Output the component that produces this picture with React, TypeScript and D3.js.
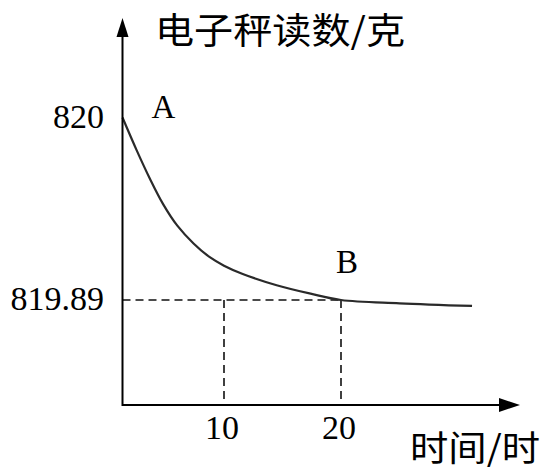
import React, { useRef, useEffect } from 'react';
import * as d3 from 'd3';

// time (hours) and scale reading (grams)
const hours = [0, 1.4, 2.7, 4, 5.4, 7, 8.6, 10, 11.6, 14.5, 17.4, 20, 25, 31.2];
const readings = [
  820, 819.9802, 819.9631, 819.9478, 819.9348, 819.9241, 819.9158, 819.9107,
  819.9057, 819.8989, 819.8938, 819.89, 819.888, 819.8864,
];
const xTicks = [10, 20];
const yTicks = [820, 819.89];
const yTickLabels = ['820', '819.89'];
const markPoint = { t: 20, v: 819.89 };
const pointLabels = [
  { name: 'A', t: 0, v: 820 },
  { name: 'B', t: 20, v: 819.89 },
];
const yTitle = '电子秤读数/克';
const xTitle = '时间/时';

const width = 552;
const height = 474;
const origin = { x: 122.5, y: 405 };
const serif = '"Liberation Serif", "Times New Roman", serif';
const cjk = '"Noto Sans CJK SC", sans-serif';

const App: React.FC = () => {
  const ref = useRef<SVGSVGElement>(null);

  useEffect(() => {
    if (ref.current === null) return;
    const svg = d3.select(ref.current);
    svg.selectAll('*').remove();

    // the drawing is not to scale, so the x scale is piecewise
    const x = d3.scaleLinear().domain([0, 10, 20]).range([origin.x, 224, 341]);
    const y = d3.scaleLinear().domain([819.89, 820]).range([300, 117.5]);

    // dashed guides
    const guides = svg
      .append('g')
      .attr('fill', 'none')
      .attr('stroke', '#111')
      .attr('stroke-width', 1.6)
      .attr('stroke-dasharray', '8,5');
    guides
      .append('line')
      .attr('x1', origin.x)
      .attr('x2', x(markPoint.t))
      .attr('y1', y(markPoint.v))
      .attr('y2', y(markPoint.v));
    guides
      .selectAll('line.v')
      .data(xTicks)
      .enter()
      .append('line')
      .attr('class', 'v')
      .attr('x1', (d) => x(d))
      .attr('x2', (d) => x(d))
      .attr('y1', y(markPoint.v))
      .attr('y2', origin.y);

    // curve
    const pts = hours.map((t, i) => [t, readings[i]] as [number, number]);
    const line = d3
      .line<[number, number]>()
      .x((d) => x(d[0]))
      .y((d) => y(d[1]))
      .curve(d3.curveCatmullRom.alpha(0.5));
    svg
      .append('path')
      .attr('d', line(pts))
      .attr('fill', 'none')
      .attr('stroke', '#2a2a2a')
      .attr('stroke-width', 2.2);

    // axes with arrows
    const axes = svg.append('g').attr('stroke', '#000').attr('stroke-width', 2);
    axes
      .append('line')
      .attr('x1', origin.x)
      .attr('x2', 502)
      .attr('y1', origin.y)
      .attr('y2', origin.y);
    axes
      .append('line')
      .attr('x1', origin.x)
      .attr('x2', origin.x)
      .attr('y1', origin.y + 1)
      .attr('y2', 34);
    svg
      .append('path')
      .attr('d', `M520,${origin.y}L499,${origin.y - 7}L499,${origin.y + 7}Z`)
      .attr('fill', '#000');
    svg
      .append('path')
      .attr('d', `M${origin.x},18L${origin.x - 6},37L${origin.x + 6},37Z`)
      .attr('fill', '#000');

    // tick labels
    svg
      .selectAll('text.xt')
      .data(xTicks)
      .enter()
      .append('text')
      .attr('class', 'xt')
      .attr('x', (d) => x(d) - 2)
      .attr('y', 439)
      .attr('text-anchor', 'middle')
      .attr('font-family', serif)
      .attr('font-size', 34)
      .text((d) => String(d));
    svg
      .selectAll('text.yt')
      .data(yTicks)
      .enter()
      .append('text')
      .attr('class', 'yt')
      .attr('x', 104)
      .attr('y', (d) => y(d) + 10)
      .attr('text-anchor', 'end')
      .attr('font-family', serif)
      .attr('font-size', 34)
      .text((_, i) => yTickLabels[i]);

    // point labels
    svg
      .selectAll('text.pt')
      .data(pointLabels)
      .enter()
      .append('text')
      .attr('class', 'pt')
      .attr('x', (d) => (d.name === 'A' ? x(d.t) + 41 : x(d.t) + 6))
      .attr('y', (d) => (d.name === 'A' ? y(d.v) : y(d.v) - 27))
      .attr('text-anchor', 'middle')
      .attr('font-family', serif)
      .attr('font-size', 33)
      .text((d) => d.name);

    // axis titles
    svg
      .append('text')
      .attr('x', 155)
      .attr('y', 44)
      .attr('font-family', cjk)
      .attr('font-size', 36)
      .attr('textLength', 250)
      .attr('lengthAdjust', 'spacingAndGlyphs')
      .text(yTitle);
    svg
      .append('text')
      .attr('x', 410)
      .attr('y', 461)
      .attr('font-family', cjk)
      .attr('font-size', 35)
      .attr('textLength', 130)
      .attr('lengthAdjust', 'spacingAndGlyphs')
      .text(xTitle);
  }, []);

  return (
    <svg
      ref={ref}
      width={width}
      height={height}
      style={{ position: 'absolute', left: 0, top: 0, background: '#fff' }}
    />
  );
};

export default App;
